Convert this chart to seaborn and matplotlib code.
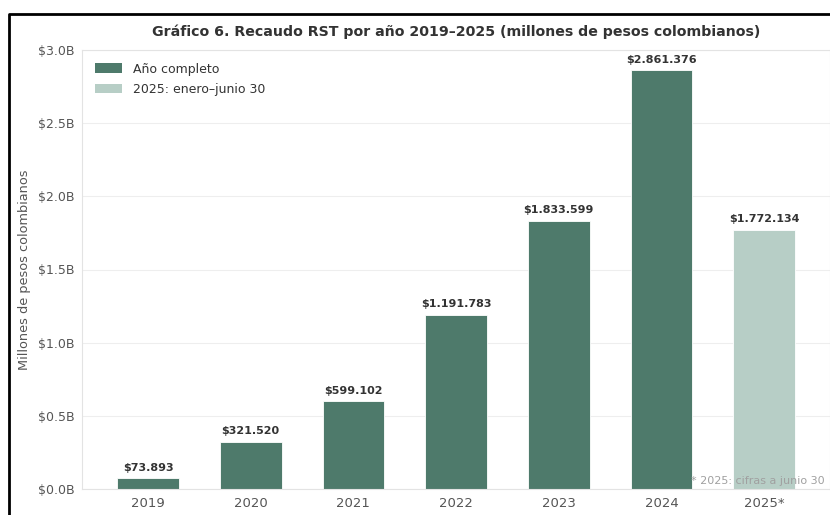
import matplotlib
matplotlib.use("Agg")
import matplotlib.pyplot as plt
import seaborn as sns
import pandas as pd
from matplotlib.lines import Line2D
from matplotlib.patches import Patch

# ---- data ----
years = ["2019", "2020", "2021", "2022", "2023", "2024", "2025*"]
recaudo_millones = [73893, 321520, 599102, 1191783, 1833599, 2861376, 1772134]
periodo = ["Año completo", "Año completo", "Año completo", "Año completo",
           "Año completo", "Año completo", "2025: enero–junio 30"]
ytick_vals = [0.0, 0.5, 1.0, 1.5, 2.0, 2.5, 3.0]

title = "Gráfico 6. Recaudo RST por año 2019–2025 (millones de pesos colombianos)"
ylabel = "Millones de pesos colombianos"
note = "* 2025: cifras a junio 30"

dark = "#4e7a6b"
light = "#b7cec6"

df = pd.DataFrame({"anio": years, "valor": [v / 1e6 for v in recaudo_millones],
                   "periodo": periodo, "raw": recaudo_millones})

sns.set_style("white")
plt.rcParams["font.family"] = ["DejaVu Sans"]

W, H = 830, 515
fig = plt.figure(figsize=(W / 100, H / 100), dpi=100)
ax = fig.add_axes([82 / W, 26 / H, (W - 82) / W, (489 - 50) / H])

sns.barplot(data=df, x="anio", y="valor", hue="periodo", dodge=False,
            palette={"Año completo": dark, "2025: enero–junio 30": light},
            width=0.6, edgecolor="white", linewidth=0.6, ax=ax, legend=False,
            saturation=1)

ax.set_xlim(-0.643, 6.642)
ax.set_ylim(0, 3.0)
ax.set_yticks(ytick_vals)
ax.set_yticklabels([f"${v:.1f}B" for v in ytick_vals])
ax.set_xlabel("")
ax.set_ylabel(ylabel, fontsize=9.3, color="#555555", labelpad=5)
ax.set_title(title, fontsize=10.2, fontweight="bold", color="#333333", pad=10)

ax.yaxis.grid(True, color="#eeeeee", linewidth=0.8)
ax.xaxis.grid(False)
ax.set_axisbelow(True)
for s in ax.spines.values():
    s.set_color("#e3e3e3")
    s.set_linewidth(0.8)
ax.tick_params(axis="both", which="both", length=3.5, width=0.8, color="#666666",
               labelcolor="#555555", labelsize=9, pad=2)
ax.tick_params(axis="x", labelsize=9.5)

def fmt(v):
    return "$" + f"{v:,}".replace(",", ".")

for i, (v, raw) in enumerate(zip(df["valor"], df["raw"])):
    ax.annotate(fmt(raw), xy=(i, v), xytext=(0, 4), textcoords="offset points",
                ha="center", va="bottom", fontsize=8, fontweight="bold", color="#333333")

handles = [Patch(facecolor=dark, edgecolor="none", label="Año completo"),
           Patch(facecolor=light, edgecolor="none", label="2025: enero–junio 30")]
ax.legend(handles=handles, loc="upper left", frameon=False, fontsize=9,
          handlelength=2.2, handleheight=0.8, handletextpad=0.9, labelspacing=0.6,
          borderaxespad=0.6, labelcolor="#333333")

ax.text(0.993, 0.018, note, transform=ax.transAxes, ha="right", va="center",
        fontsize=8, color="#a0a0a0")

# screenshot frame (left and top edges)
fig.add_artist(Line2D([8.5 / W, 8.5 / W, 1.0], [0, 1 - 14 / H, 1 - 14 / H],
                      transform=fig.transFigure, color="black", linewidth=2.0))

fig.savefig("out.png", dpi=100)
